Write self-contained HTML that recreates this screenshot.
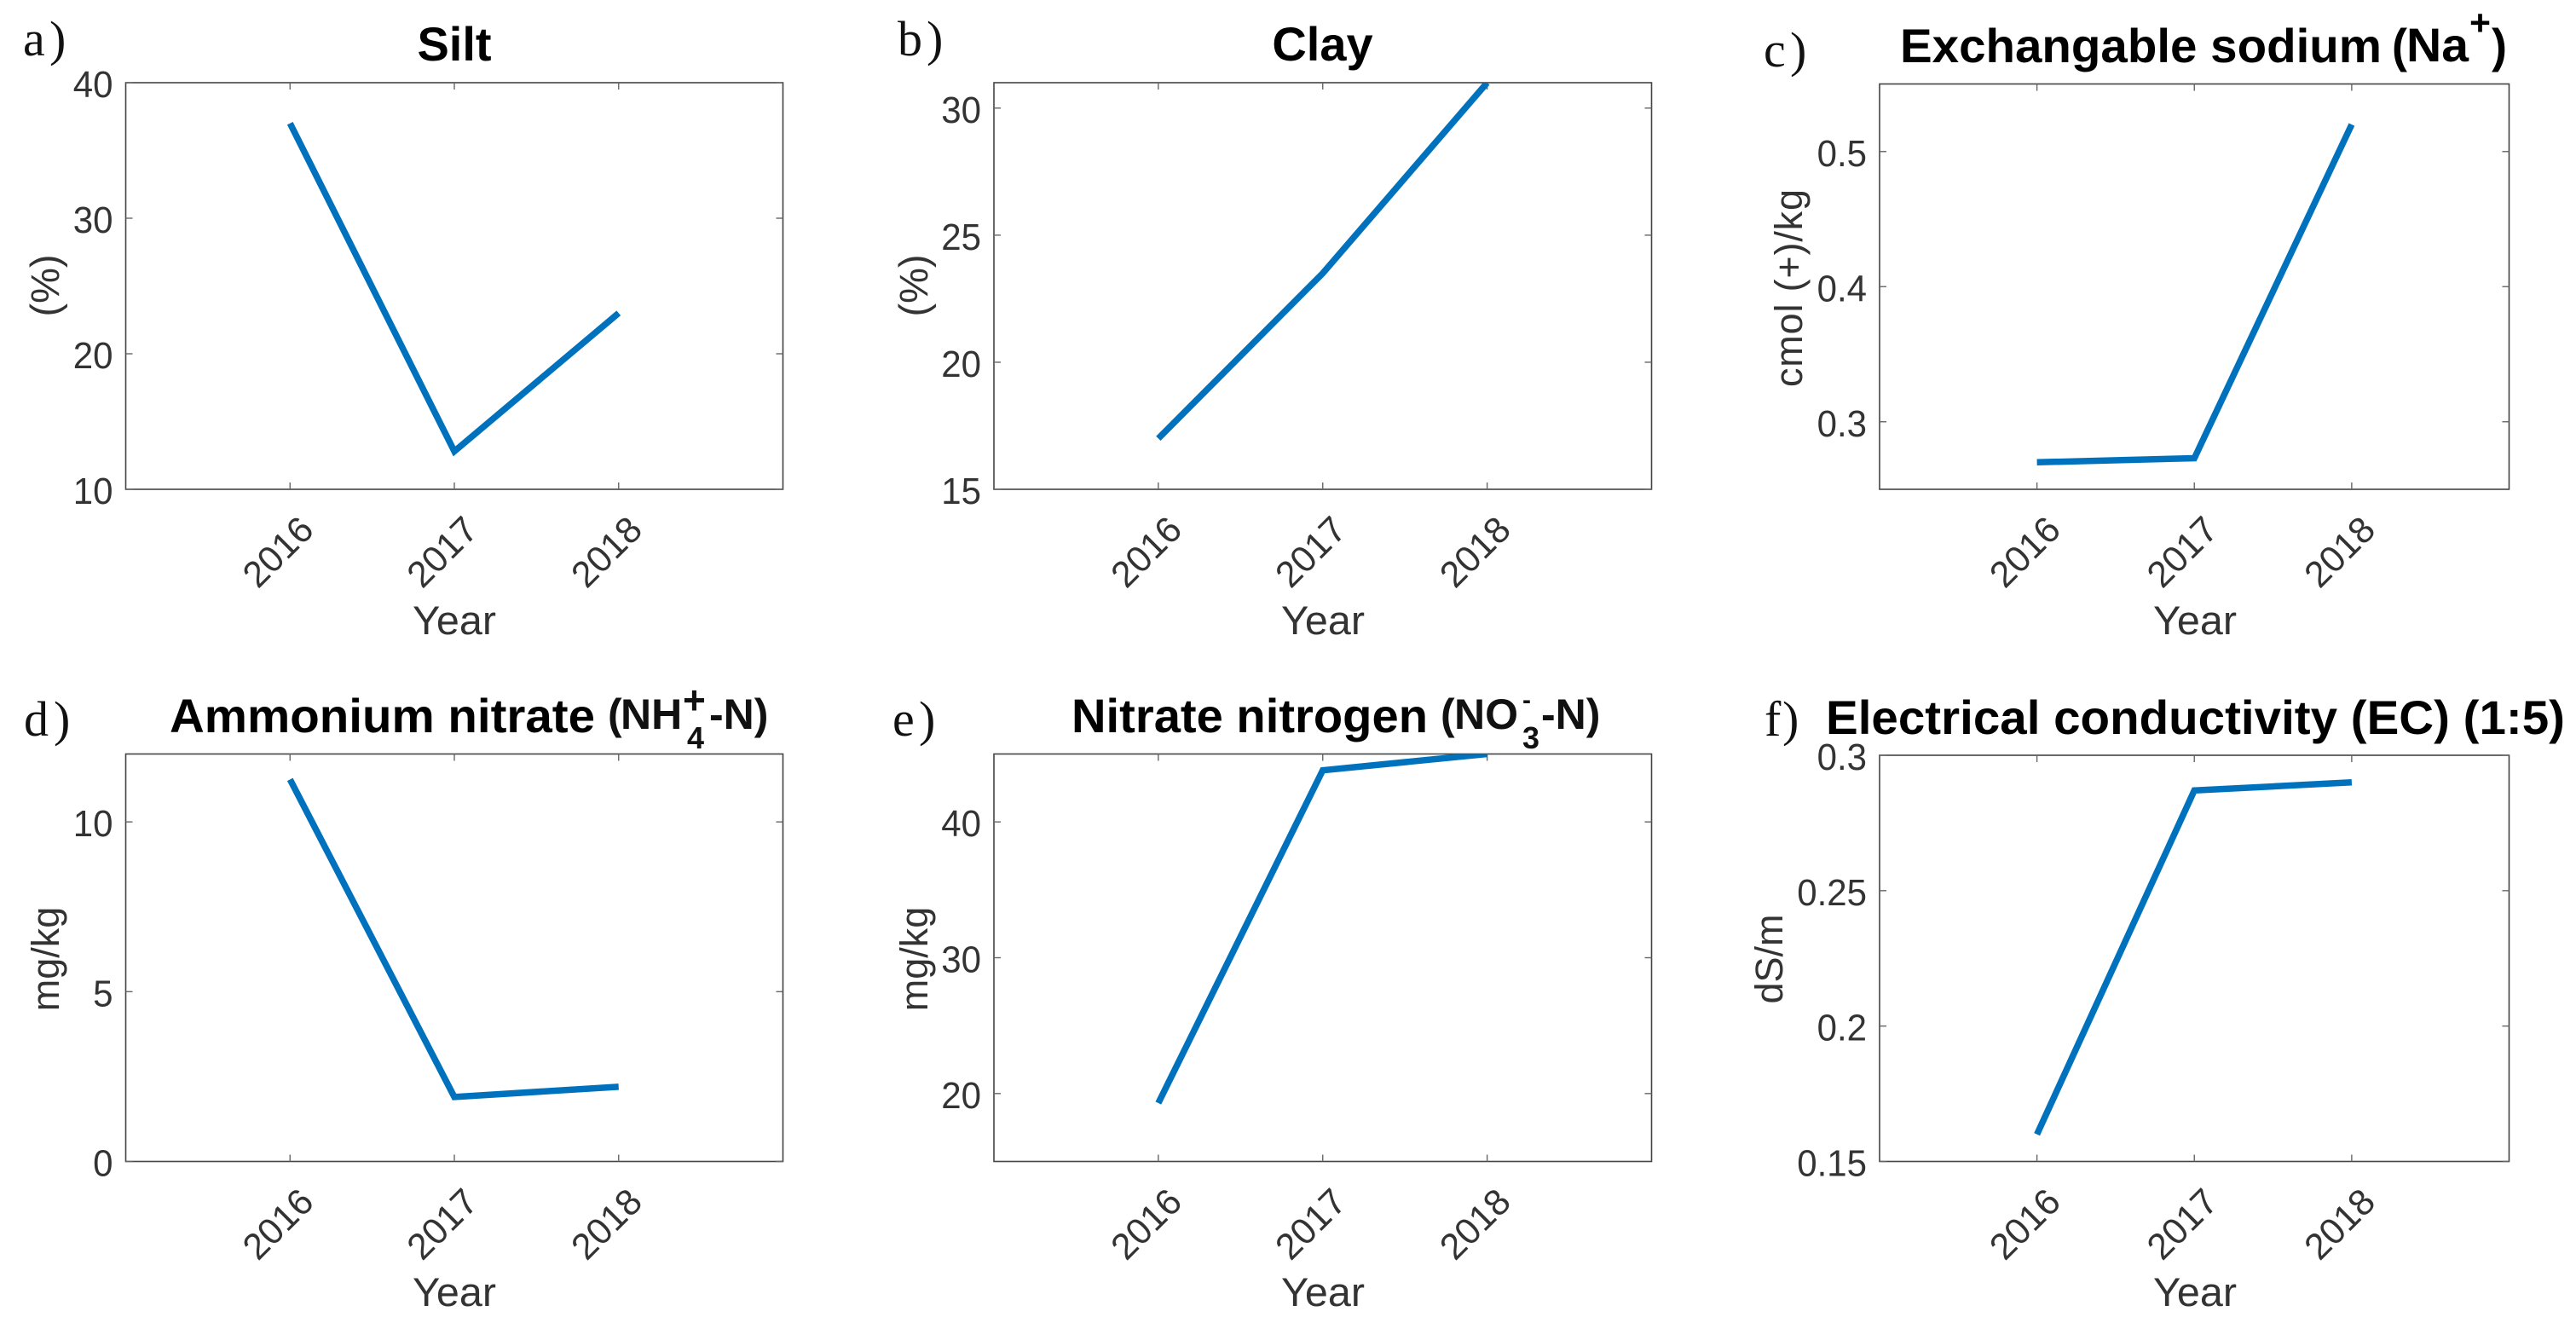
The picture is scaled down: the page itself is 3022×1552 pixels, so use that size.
<!DOCTYPE html>
<html lang="en">
<head>
<meta charset="utf-8">
<title>Soil properties 2016-2018</title>
<style>
html,body{margin:0;padding:0;background:#fff;width:3022px;height:1552px;overflow:hidden}
svg{display:block}
.lbl{font-family:"Liberation Sans",sans-serif;fill:#333;font-size:45px}
.year{font-family:"Liberation Sans",sans-serif;fill:#333;font-size:47px}
.tick{font-family:"Liberation Sans",sans-serif;fill:#333;font-size:43px}
.ytick{font-family:"Liberation Sans",sans-serif;fill:#333;font-size:44px}
.ttl{font-family:"Liberation Sans",sans-serif;fill:#000;font-weight:bold;font-size:56px}
.sub{font-family:"Liberation Sans",sans-serif;fill:#111;font-weight:bold;font-size:50px}
.let{font-family:"Liberation Serif",serif;fill:#111;font-size:58px}
</style>
</head>
<body>
<svg id="fig" xmlns="http://www.w3.org/2000/svg" width="3022" height="1552" viewBox="0 0 3022 1552">
<rect width="3022" height="1552" fill="#fff"/>
<g id="axes-layer"></g>

<g>
<text class="let" y="65"><tspan x="27">a</tspan><tspan x="58">)</tspan></text>
<text class="let" y="65"><tspan x="1053">b</tspan><tspan x="1087">)</tspan></text>
<text class="let" y="78"><tspan x="2069">c</tspan><tspan x="2100">)</tspan></text>
<text class="let" y="863"><tspan x="28">d</tspan><tspan x="63">)</tspan></text>
<text class="let" y="863"><tspan x="1047">e</tspan><tspan x="1078">)</tspan></text>
<text class="let" y="863"><tspan x="2070">f</tspan><tspan x="2091">)</tspan></text>
</g>

<g>
<text class="ttl" x="533" y="71" text-anchor="middle">Silt</text>
<text class="ttl" x="1551.5" y="71" text-anchor="middle">Clay</text>

<g>
<text class="ttl" x="2229" y="73" textLength="565" lengthAdjust="spacingAndGlyphs">Exchangable sodium</text>
<text class="ttl" x="2806" y="73" textLength="18" lengthAdjust="spacingAndGlyphs">(</text>
<text class="ttl" x="2823" y="72" textLength="73" lengthAdjust="spacingAndGlyphs">Na</text>
<text class="ttl" x="2897" y="41" style="font-size:42px" textLength="25" lengthAdjust="spacingAndGlyphs">+</text>
<text class="ttl" x="2923" y="73" textLength="18" lengthAdjust="spacingAndGlyphs">)</text>
</g>

<g>
<text class="ttl" x="199" y="859" textLength="499" lengthAdjust="spacingAndGlyphs">Ammonium nitrate</text>
</g>
<g>
<text class="sub" x="713" y="855">(</text>
<text class="sub" x="728" y="855">NH</text>
<text class="sub" x="801" y="837" style="font-size:46px">+</text>
<text class="sub" x="806" y="878" style="font-size:36px">4</text>
<text class="sub" x="832" y="855">-N)</text>
</g>

<g>
<text class="ttl" x="1257" y="859" textLength="418" lengthAdjust="spacingAndGlyphs">Nitrate nitrogen</text>
</g>
<g>
<text class="sub" x="1690" y="855">(</text>
<text class="sub" x="1706" y="855">NO</text>
<text class="sub" x="1786" y="831" style="font-size:30px">-</text>
<text class="sub" x="1786" y="878" style="font-size:36px">3</text>
<text class="sub" x="1808" y="855">-N)</text>
</g>

<text class="ttl" x="2142" y="861" textLength="867" lengthAdjust="spacingAndGlyphs">Electrical conductivity (EC) (1:5)</text>
</g>

<g>
<text class="year" x="533" y="744" text-anchor="middle" textLength="98" lengthAdjust="spacingAndGlyphs">Year</text>
<text class="year" x="1552" y="744" text-anchor="middle" textLength="98" lengthAdjust="spacingAndGlyphs">Year</text>
<text class="year" x="2575" y="744" text-anchor="middle" textLength="98" lengthAdjust="spacingAndGlyphs">Year</text>
<text class="year" x="533" y="1532" text-anchor="middle" textLength="98" lengthAdjust="spacingAndGlyphs">Year</text>
<text class="year" x="1552" y="1532" text-anchor="middle" textLength="98" lengthAdjust="spacingAndGlyphs">Year</text>
<text class="year" x="2575" y="1532" text-anchor="middle" textLength="98" lengthAdjust="spacingAndGlyphs">Year</text>
<text class="year" text-anchor="middle" transform="translate(69,335) rotate(-90)">(%)</text>
<text class="year" text-anchor="middle" transform="translate(1088,335) rotate(-90)">(%)</text>
<text class="lbl" text-anchor="middle" transform="translate(2114,338) rotate(-90)" textLength="232" lengthAdjust="spacing">cmol (+)/kg</text>
<text class="lbl" text-anchor="middle" transform="translate(69,1125) rotate(-90)">mg/kg</text>
<text class="lbl" text-anchor="middle" transform="translate(1088,1125) rotate(-90)">mg/kg</text>
<text class="lbl" text-anchor="middle" transform="translate(2091,1125) rotate(-90)">dS/m</text>
</g>
</svg>

<script>
// Chart data
const years = [2016, 2017, 2018];
const xTickLabels = ['2016', '2017', '2018'];

const siltValues = [37, 12.8, 23];
const siltTicks = [10, 20, 30, 40];
const siltTickLabels = ['10', '20', '30', '40'];
const siltRange = [10, 40];

const clayValues = [17, 23.5, 31];
const clayTicks = [15, 20, 25, 30];
const clayTickLabels = ['15', '20', '25', '30'];
const clayRange = [15, 31];

const sodiumValues = [0.27, 0.273, 0.52];
const sodiumTicks = [0.3, 0.4, 0.5];
const sodiumTickLabels = ['0.3', '0.4', '0.5'];
const sodiumRange = [0.25, 0.55];

const ammoniumValues = [11.25, 1.9, 2.2];
const ammoniumTicks = [0, 5, 10];
const ammoniumTickLabels = ['0', '5', '10'];
const ammoniumRange = [0, 12];

const nitrateValues = [19.3, 43.8, 45];
const nitrateTicks = [20, 30, 40];
const nitrateTickLabels = ['20', '30', '40'];
const nitrateRange = [15, 45];

const conductivityValues = [0.16, 0.287, 0.29];
const conductivityTicks = [0.15, 0.2, 0.25, 0.3];
const conductivityTickLabels = ['0.15', '0.2', '0.25', '0.3'];
const conductivityRange = [0.15, 0.3];

const xRange = [2015, 2019];

const NS = 'http://www.w3.org/2000/svg';
const layer = document.getElementById('axes-layer');

function make(tag, parent) {
  const node = document.createElementNS(NS, tag);
  parent.appendChild(node);
  return node;
}

function set(node, attrs) {
  for (const k in attrs) node.setAttribute(k, attrs[k]);
}

function drawPanel(key, box, values, ticks, tickLabels, yRange) {
  const xScale = v => box.left + (v - xRange[0]) / (xRange[1] - xRange[0]) * (box.right - box.left);
  const yScale = v => box.bottom - (v - yRange[0]) / (yRange[1] - yRange[0]) * (box.bottom - box.top);

  const group = make('g', layer);
  
  

  const clip = make('clipPath', group);
  clip.setAttribute('id', 'clip-' + key);
  const clipRect = make('rect', clip);
  set(clipRect, {x: box.left, y: box.top, width: box.right - box.left, height: box.bottom - box.top});

  const frame = make('rect', group);
  set(frame, {x: box.left, y: box.top, width: box.right - box.left, height: box.bottom - box.top, fill: 'none', stroke: '#444', 'stroke-width': 1.6});
  
  

  years.forEach((yr, i) => {
    const x = xScale(yr);
    const bottomTick = make('line', group);
    set(bottomTick, {x1: x, x2: x, y1: box.bottom, y2: box.bottom - 8, stroke: '#666', 'stroke-width': 1.4});
    
    

    const topTick = make('line', group);
    set(topTick, {x1: x, x2: x, y1: box.top, y2: box.top + 8, stroke: '#666', 'stroke-width': 1.4});
    
    

    const label = make('text', group);
    set(label, {'class': 'tick', 'text-anchor': 'end', transform: 'translate(' + (x + 30) + ',' + (box.bottom + 50) + ') rotate(-45)'});
    label.textContent = xTickLabels[i];
    
    
  });

  ticks.forEach((t, i) => {
    const y = yScale(t);
    const leftTick = make('line', group);
    set(leftTick, {x1: box.left, x2: box.left + 8, y1: y, y2: y, stroke: '#666', 'stroke-width': 1.4});
    
    

    const rightTick = make('line', group);
    set(rightTick, {x1: box.right, x2: box.right - 8, y1: y, y2: y, stroke: '#666', 'stroke-width': 1.4});
    
    

    const label = make('text', group);
    set(label, {'class': 'ytick', 'text-anchor': 'end', x: box.left - 15, y: y + 17});
    label.textContent = tickLabels[i];
    const naturalWidth = label.getComputedTextLength();
    set(label, {textLength: naturalWidth * 0.955, lengthAdjust: 'spacingAndGlyphs'});
    
    
  });

  const series = make('polyline', group);
  set(series, {
    points: values.map((v, i) => xScale(years[i]) + ',' + yScale(v)).join(' '),
    fill: 'none', stroke: '#0072BD', 'stroke-width': 7.5, 'stroke-linejoin': 'miter',
    'clip-path': 'url(#clip-' + key + ')'
  });
  
  
}

drawPanel('silt', {left: 147.5, right: 918.5, top: 97, bottom: 574}, siltValues, siltTicks, siltTickLabels, siltRange);
drawPanel('clay', {left: 1166, right: 1937.5, top: 97, bottom: 574}, clayValues, clayTicks, clayTickLabels, clayRange);
drawPanel('sodium', {left: 2205, right: 2943.5, top: 98.5, bottom: 574}, sodiumValues, sodiumTicks, sodiumTickLabels, sodiumRange);
drawPanel('ammonium', {left: 147.5, right: 918.5, top: 884.5, bottom: 1362.5}, ammoniumValues, ammoniumTicks, ammoniumTickLabels, ammoniumRange);
drawPanel('nitrate', {left: 1166, right: 1937.5, top: 884.5, bottom: 1362.5}, nitrateValues, nitrateTicks, nitrateTickLabels, nitrateRange);
drawPanel('conductivity', {left: 2205, right: 2943.5, top: 886, bottom: 1362.5}, conductivityValues, conductivityTicks, conductivityTickLabels, conductivityRange);
</script>
</body>
</html>
